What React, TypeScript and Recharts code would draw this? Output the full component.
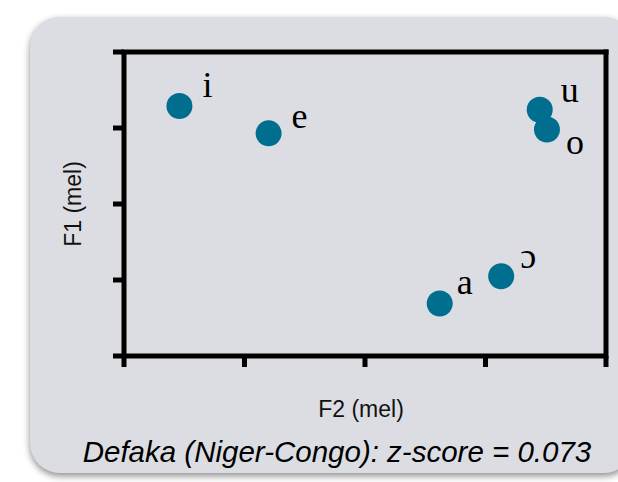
import React from 'react';
import { ScatterChart, Scatter, XAxis, YAxis, ReferenceLine } from 'recharts';

// vowel inventory, F2 / F1 in normalised axis units (4 intervals each)
const vowels = ['i', 'e', 'u', 'o', 'a', 'ɔ'];
const f2 = [0.46, 1.2, 3.45, 3.51, 2.62, 3.13];
const f1 = [3.29, 2.93, 3.24, 2.98, 0.69, 1.05];
const ticks = [0, 1, 2, 3, 4];

const data = vowels.map((v, i) => ({ vowel: v, f2: f2[i], f1: f1[i] }));

// label placement relative to the dot
const LABEL_OFFSET: Record<string, [number, number]> = {
  i: [28, -9],
  e: [31, -5],
  u: [30, -8],
  o: [28, 24],
  a: [25, -10],
  'ɔ': [27, -8],
};

const DOT = '#006f8f';
const LINE = 5;

const VowelDot = (props: any) => {
  const { cx, cy, payload } = props;
  const [dx, dy] = LABEL_OFFSET[payload.vowel] || [28, -8];
  return (
    <g>
      <circle cx={cx} cy={cy} r={13} fill={DOT} />
      <text
        x={cx + dx}
        y={cy + dy}
        textAnchor="middle"
        fontFamily="'Liberation Serif', 'DejaVu Serif', serif"
        fontSize={36}
        fill="#000"
      >
        {payload.vowel}
      </text>
    </g>
  );
};

const sans = "'Liberation Sans', Arial, sans-serif";

export default function App() {
  return (
    <div
      style={{
        position: 'absolute',
        left: 0,
        top: 0,
        width: 618,
        height: 482,
        overflow: 'hidden',
        background: '#fff',
      }}
    >
      <div
        style={{
          position: 'absolute',
          left: 30,
          top: 17,
          width: 604,
          height: 456,
          borderRadius: 30,
          background: '#dcdde2',
          boxShadow: '0 3px 7px rgba(0,0,0,0.45)',
        }}
      />
      <div style={{ position: 'absolute', left: 0, top: 0 }}>
        <ScatterChart
          width={618}
          height={482}
          margin={{ top: 52, right: 12, left: 104, bottom: 106 }}
        >
          <XAxis
            type="number"
            dataKey="f2"
            domain={[0, 4]}
            ticks={ticks}
            height={20}
            tick={() => <g />}
            tickSize={11}
            axisLine={{ stroke: '#000', strokeWidth: LINE }}
            tickLine={{ stroke: '#000', strokeWidth: LINE }}
          />
          <YAxis
            type="number"
            dataKey="f1"
            domain={[0, 4]}
            ticks={ticks}
            width={20}
            tick={() => <g />}
            tickSize={11}
            axisLine={{ stroke: '#000', strokeWidth: LINE }}
            tickLine={{ stroke: '#000', strokeWidth: LINE }}
          />
          <ReferenceLine y={4} stroke="#000" strokeWidth={LINE} strokeLinecap="square" />
          <ReferenceLine x={4} stroke="#000" strokeWidth={LINE} strokeLinecap="square" />
          <Scatter data={data} shape={VowelDot} isAnimationActive={false} />
        </ScatterChart>
      </div>
      <div
        style={{
          position: 'absolute',
          left: 261,
          width: 200,
          top: 396,
          textAlign: 'center',
          fontFamily: sans,
          fontSize: 23,
          color: '#111',
        }}
      >
        F2 (mel)
      </div>
      <div
        style={{
          position: 'absolute',
          left: 73,
          top: 204,
          width: 200,
          marginLeft: -100,
          marginTop: -13,
          textAlign: 'center',
          transform: 'rotate(-90deg)',
          fontFamily: sans,
          fontSize: 23,
          lineHeight: '26px',
          color: '#111',
        }}
      >
        F1 (mel)
      </div>
      <div
        style={{
          position: 'absolute',
          left: 37,
          width: 600,
          top: 435,
          textAlign: 'center',
          fontFamily: sans,
          fontStyle: 'italic',
          fontSize: 29.5,
          color: '#000',
        }}
      >
        Defaka (Niger-Congo): z-score = 0.073
      </div>
    </div>
  );
}
